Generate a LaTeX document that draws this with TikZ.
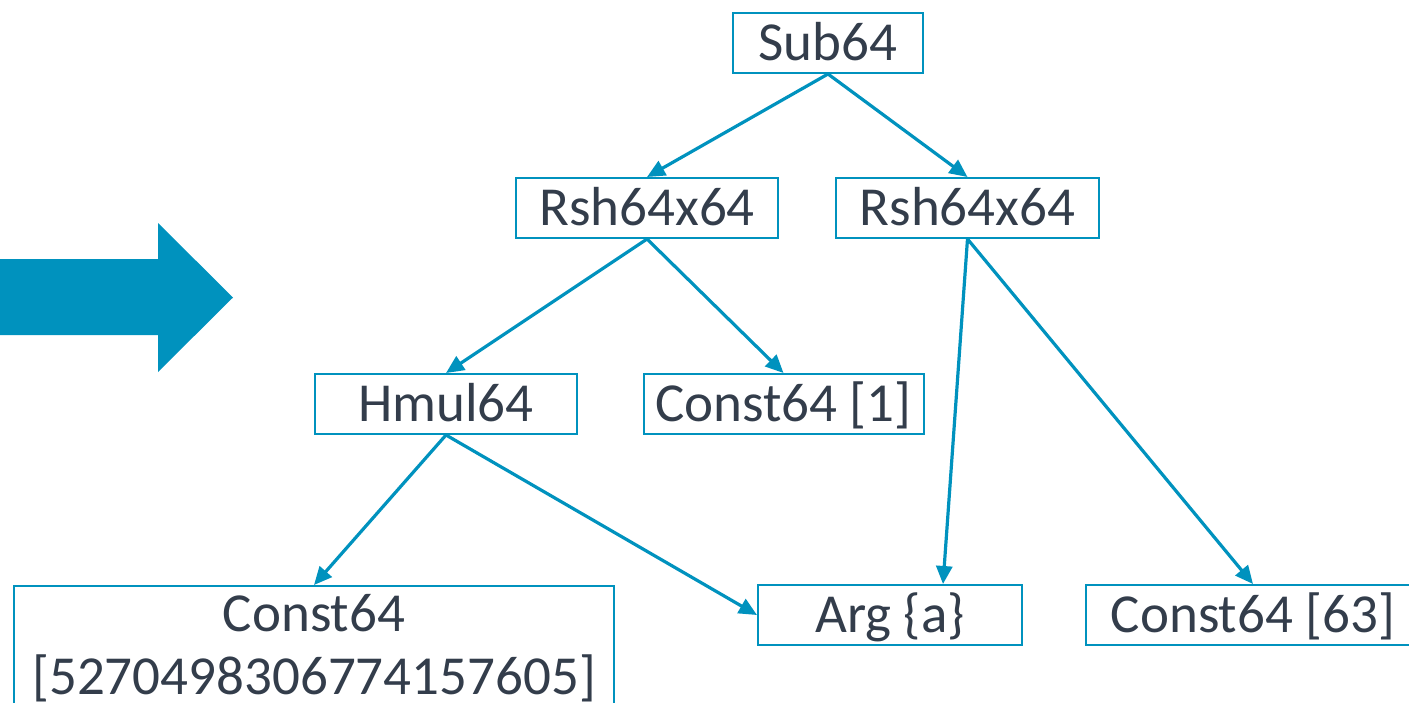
\documentclass[tikz,border=0pt]{standalone}
\usepackage{fontspec}
\setmainfont{Carlito}
\usetikzlibrary{arrows.meta}
\definecolor{irblue}{HTML}{0092BE}
\definecolor{irtext}{HTML}{333D4B}
\tikzset{
  opbox/.style={draw=irblue, line width=1pt, rectangle, inner sep=0pt,
    minimum height=30pt, text=irtext,
    font=\fontsize{27.5pt}{31.5pt}\selectfont,
    text height=17.7pt, text depth=0pt},
  edge/.style={draw=irblue, line width=1.6pt,
    -{Triangle[length=9pt,width=8pt]}}
}
\begin{document}
\begin{tikzpicture}[x=0.5pt,y=-0.5pt]
  \useasboundingbox (0,0) rectangle (1409,702);
  \clip (0,0) rectangle (1409,702);

  % lowering arrow
  \fill[irblue] (-2,259) -- (158,259) -- (158,223) -- (233,297.5)
    -- (158,372) -- (158,335) -- (-2,335) -- cycle;

  % SSA nodes
  \node[opbox, minimum width=95pt]   (sub)  at (828,43)    {Sub64};
  \node[opbox, minimum width=131pt]  (rshl) at (647,208)   {Rsh64x64};
  \node[opbox, minimum width=131.5pt](rshr) at (967.5,208) {Rsh64x64};
  \node[opbox, minimum width=131pt]  (hmul) at (446,404)   {Hmul64};
  \node[opbox, minimum width=140pt]  (cone) at (783.5,404) {Const64 [1]};
  \node[opbox, minimum width=132pt]  (arg)  at (890,615)   {Arg \{a\}};
  \node[opbox, minimum width=167pt]  (c63)  at (1253,615)  {Const64 [63]};
  \node[opbox, minimum width=300pt, anchor=north, align=center,
        inner ysep=4pt, text height=50pt, text depth=15pt]
        (cbig) at (314,585) {Const64\\{}[5270498306774157605]};

  % operand edges
  \draw[edge] (sub.south)  -- (rshl.north);
  \draw[edge] (sub.south)  -- (rshr.north);
  \draw[edge] (rshl.south) -- (hmul.north);
  \draw[edge] (rshl.south) -- (cone.north);
  \draw[edge] (rshr.south) -- ([xshift=26.5pt]arg.north);
  \draw[edge] (rshr.south) -- (c63.north);
  \draw[edge] (hmul.south) -- (cbig.north);
  \draw[edge] (hmul.south) -- (arg.west);
\end{tikzpicture}
\end{document}
